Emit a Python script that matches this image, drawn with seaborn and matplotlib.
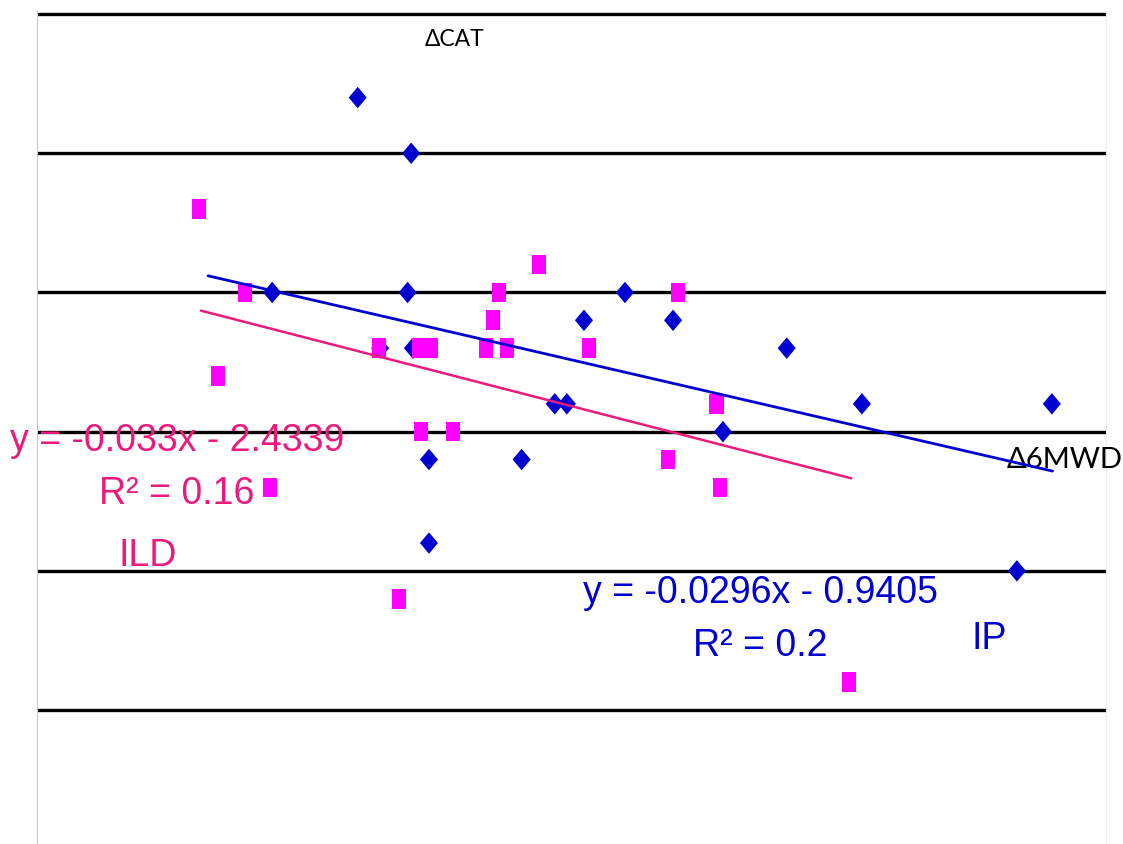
import matplotlib
matplotlib.use("Agg")
import matplotlib.pyplot as plt
import seaborn as sns

# ----------------------------
# DATA
# ----------------------------
# IP group: change in 6MWD (x) vs change in CAT (y)
ip_6mwd = [-10, 5, -34, 4, 65, 53.5, 78.5, -3.7, 5.5, 110.4, 45.3, 48.7,
           131.5, 184.8, 92.5, 10, 36, 10, 175]
ip_cat = [7, 5, 0, 0, 0, -1, -1, -2, -2, -2, -4, -4,
          -4, -4, -5, -6, -6, -9, -10]

# ILD group
ild_6mwd = [-54.6, -41.7, -49.3, -34.7, -4.1, 7.1, 10.5, 7.7, 16.7, 26, 31.9,
            27.9, 29.6, 40.8, 54.8, 79.8, 77, 90.7, 91.6, 1.6, 127.8]
ild_cat = [3, 0, -3, -7, -2, -2, -2, -5, -5, -2, -2,
           -1, 0, 1, -2, 0, -6, -4, -7, -11, -14]

# trendlines as printed on the chart (slope, intercept) and their x span
ip_fit = (-0.0296, -0.9405)
ild_fit = (-0.033, -2.4339)
ip_fit_span = [-52, 185]
ild_fit_span = [-54, 128.5]

grid_levels = [10, 5, 0, -5, -10, -15]

# ----------------------------
# STYLE
# ----------------------------
BLUE = "#0000D0"
MAGENTA = "#FF00FF"
PINK = "#EC1A7C"

sns.set_style("white")

# marker shapes: tall diamond and tall rectangle
diamond = [(0, 0.5), (0.42, 0), (0, -0.5), (-0.42, 0)]
rect = [(-0.36, -0.5), (0.36, -0.5), (0.36, 0.5), (-0.36, 0.5)]

fig = plt.figure(figsize=(11.23, 8.44), dpi=100)
ax = fig.add_axes([37 / 1123, 0, 1069 / 1123, 1 - 11 / 844])

sns.scatterplot(x=ip_6mwd, y=ip_cat, marker=diamond, s=240, color=BLUE,
                edgecolor="none", ax=ax, zorder=3)
sns.scatterplot(x=ild_6mwd, y=ild_cat, marker=rect, s=200, color=MAGENTA,
                edgecolor="none", ax=ax, zorder=4)

ip_line = [ip_fit[0] * x + ip_fit[1] for x in ip_fit_span]
ild_line = [ild_fit[0] * x + ild_fit[1] for x in ild_fit_span]
sns.lineplot(x=ip_fit_span, y=ip_line, color=BLUE, lw=2.0, ax=ax, zorder=5)
sns.lineplot(x=ild_fit_span, y=ild_line, color=PINK, lw=1.8, ax=ax, zorder=5)

ax.set_xlim(-100, 200)
ax.set_ylim(-19.81, 10.11)
ax.set_xticks([])
ax.set_yticks(grid_levels)
ax.set_yticklabels([])
ax.tick_params(length=0)
ax.yaxis.grid(True, color="black", lw=2.4)
ax.set_axisbelow(True)

for side in ["top", "bottom"]:
    ax.spines[side].set_visible(False)
ax.spines["left"].set_color("#c8c8c8")
ax.spines["left"].set_linewidth(0.8)
ax.spines["right"].set_color("#eeeeee")
ax.spines["right"].set_linewidth(0.8)

# ----------------------------
# LABELS
# ----------------------------
arial = ["Liberation Sans", "DejaVu Sans"]
calib = ["Lato", "DejaVu Sans"]

ax.text(17.3, 9.07, "\u0394CAT", family=calib, fontsize=16.5,
        ha="center", va="center", color="black")
ax.text(188.5, -6.0, "\u03946MWD", family=calib, fontsize=21,
        ha="center", va="center", color="black")

ax.text(-60.7, -5.35, "y = -0.033x - 2.4339", family=arial, fontsize=27,
        ha="center", va="center", color=PINK)
ax.text(-60.7, -7.25, "R\u00b2 = 0.16", family=arial, fontsize=27,
        ha="center", va="center", color=PINK)
ax.text(-69, -9.45, "ILD", family=arial, fontsize=27,
        ha="center", va="center", color=PINK)

ax.text(102.9, -10.8, "y = -0.0296x - 0.9405", family=arial, fontsize=27,
        ha="center", va="center", color=BLUE)
ax.text(102.9, -12.7, "R\u00b2 = 0.2", family=arial, fontsize=27,
        ha="center", va="center", color=BLUE)
ax.text(167.2, -12.45, "IP", family=arial, fontsize=27,
        ha="center", va="center", color=BLUE)

fig.savefig("out.png", dpi=100)
